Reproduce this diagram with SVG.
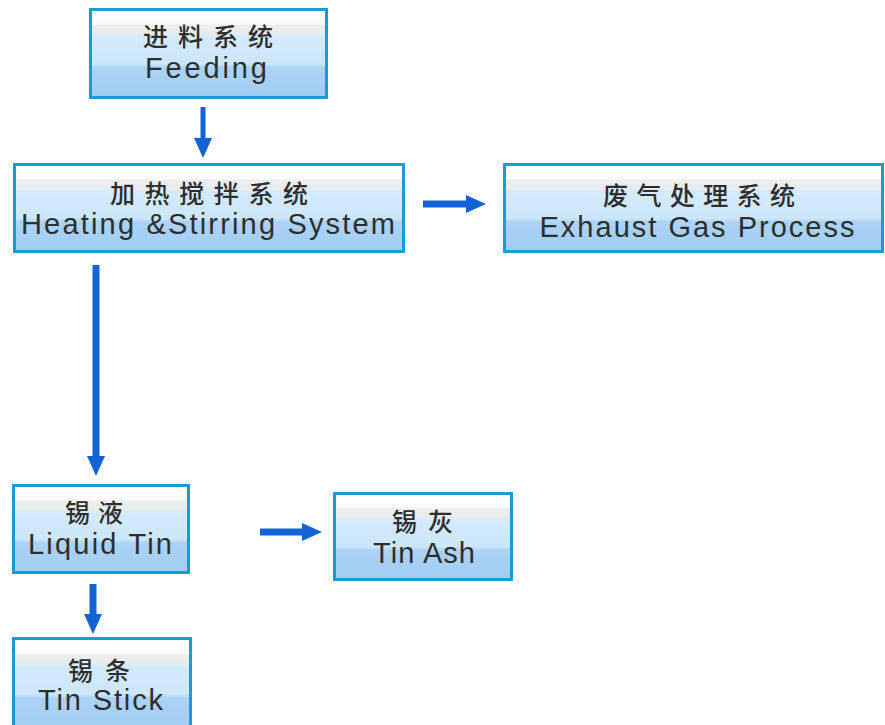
<svg xmlns="http://www.w3.org/2000/svg" width="885" height="725" viewBox="0 0 885 725">
  <style>
    .box { fill: url(#boxFill); stroke: #1b9ad8; stroke-width: 3; }
    .zh { font-family: "Noto Sans CJK SC", "Noto Sans", sans-serif; font-size: 25px; font-weight: 500; fill: #2e2e2e; text-anchor: middle; }
    .en { font-family: "Liberation Sans", Arial, sans-serif; font-size: 29px; fill: #2e2e2e; text-anchor: middle; }
    .shaft { stroke: #1263d3; stroke-width: 7; fill: none; marker-end: url(#head); }
    .thin { stroke-width: 5; }
  </style>
  <defs>
    <linearGradient id="boxFill" x1="0" y1="0" x2="0" y2="1">
      <stop offset="0" stop-color="#ffffff"/>
      <stop offset="0.16" stop-color="#fbfbfb"/>
      <stop offset="0.18" stop-color="#eeeeec"/>
      <stop offset="0.28" stop-color="#e6ebee"/>
      <stop offset="0.31" stop-color="#d3ebfc"/>
      <stop offset="0.62" stop-color="#cce6fb"/>
      <stop offset="0.66" stop-color="#abd3f5"/>
      <stop offset="1" stop-color="#a2ccf3"/>
    </linearGradient>
    <marker id="head" viewBox="0 0 20 18" markerUnits="userSpaceOnUse" markerWidth="20" markerHeight="18" refX="1" refY="9" orient="auto">
      <path d="M0,0 L20,9 L0,18 z" fill="#1263d3"/>
    </marker>
  </defs>

  <g id="connectors">
    <line class="shaft thin" x1="203" y1="107" x2="203" y2="139"/>
    <line class="shaft" x1="423" y1="204" x2="467" y2="204"/>
    <line class="shaft" x1="96" y1="265" x2="96" y2="457"/>
    <line class="shaft" x1="260" y1="532" x2="303" y2="532"/>
    <line class="shaft" x1="93" y1="584" x2="93" y2="615"/>
  </g>

  <g id="feeding">
    <rect class="box" x="90.5" y="9.5" width="236" height="88"/>
    <text class="zh" x="208" y="46" textLength="130" lengthAdjust="spacing">进料系统</text>
    <text class="en" x="206" y="78" textLength="122" lengthAdjust="spacing">Feeding</text>
  </g>

  <g id="heating">
    <rect class="box" x="14.5" y="164.5" width="389" height="87"/>
    <text class="zh" x="209" y="203" textLength="198" lengthAdjust="spacing">加热搅拌系统</text>
    <text class="en" x="208" y="234" textLength="374" lengthAdjust="spacing">Heating &amp;Stirring System</text>
  </g>

  <g id="exhaust">
    <rect class="box" x="504.5" y="164.5" width="378" height="87"/>
    <text class="zh" x="699" y="205" textLength="192" lengthAdjust="spacing">废气处理系统</text>
    <text class="en" x="697" y="237" textLength="315" lengthAdjust="spacing">Exhaust Gas Process</text>
  </g>

  <g id="liquid-tin">
    <rect class="box" x="13.5" y="485.5" width="175" height="87"/>
    <text class="zh" x="94" y="522" textLength="58" lengthAdjust="spacing">锡液</text>
    <text class="en" x="100" y="554" textLength="144" lengthAdjust="spacing">Liquid Tin</text>
  </g>

  <g id="tin-ash">
    <rect class="box" x="334.5" y="493.5" width="177" height="86"/>
    <text class="zh" x="422.5" y="531" textLength="61" lengthAdjust="spacing">锡灰</text>
    <text class="en" x="424" y="563" textLength="102" lengthAdjust="spacing">Tin Ash</text>
  </g>

  <g id="tin-stick">
    <rect class="box" x="13.5" y="638.5" width="177" height="90"/>
    <text class="zh" x="99" y="680" textLength="62" lengthAdjust="spacing">锡条</text>
    <text class="en" x="100.5" y="710" textLength="125" lengthAdjust="spacing">Tin Stick</text>
  </g>
</svg>
